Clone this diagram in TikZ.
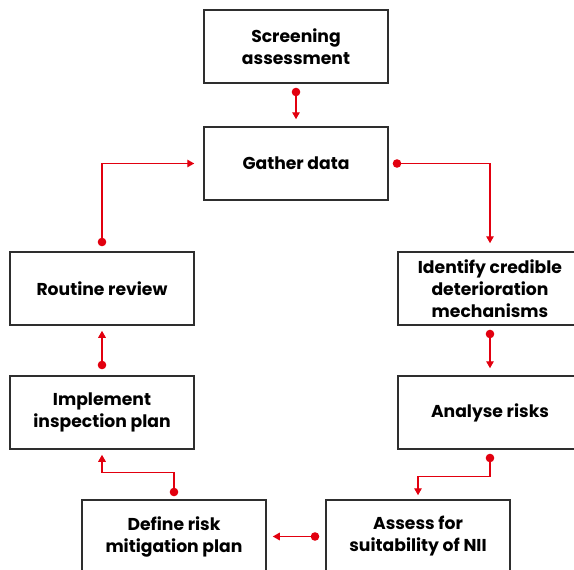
\documentclass[tikz,border=0pt]{standalone}
\usepackage{fontspec}
\setmainfont{Poppins}
\usetikzlibrary{arrows.meta,calc}
\definecolor{abbred}{HTML}{E2000F}
\definecolor{boxgray}{HTML}{2E2E2E}
\begin{document}
\begin{tikzpicture}[x=1pt,y=-1pt,
  box/.style={draw=boxgray, line width=1.5pt, minimum width=184pt, minimum height=73pt,
    align=center, inner sep=0pt, text=black,
    font=\fontsize{17.2}{22}\selectfont\bfseries},
  link/.style={draw=abbred, line width=1.3pt,
    {Circle[length=8.5pt]}-{Triangle[length=7pt,width=7.5pt]},
    shorten <=4pt, shorten >=7pt}]
\useasboundingbox (0,0) rectangle (574,570);
\clip (0,0) rectangle (574,570);
\node[box] (screen) at (296,46.5) {Screening\\assessment};
\node[box] (gather) at (296,163.5) {Gather data};
\node[box] (routine) at (102,288.5) {Routine review};
\node[box] (ident) at (490,288.5) {Identify credible\\deterioration\\mechanisms};
\node[box] (impl) at (102,412.5) {Implement\\inspection plan};
\node[box] (anal) at (490,412.5) {Analyse risks};
\node[box] (define) at (174,536.5) {Define risk\\mitigation plan};
\node[box] (assess) at (418,536.5) {Assess for\\suitability of NII};

\draw[link] (screen.south) -- (gather.north);
\draw[link, shorten >=8pt] (gather.east) -| (ident.north);
\draw[link] (ident.south) -- (anal.north);
\draw[link, shorten >=4pt] (anal.south) -- ++(0,27) -| (assess.north);
\draw[link, shorten <=6pt, shorten >=6pt] (assess.west) -- (define.east);
\draw[link, shorten <=3pt, shorten >=5pt] (define.north) -- ++(0,-27) -| (impl.south);
\draw[link, shorten <=6pt, shorten >=5pt] (impl.north) -- (routine.south);
\draw[link, shorten <=5pt, shorten >=9pt] (routine.north) |- (gather.west);
\end{tikzpicture}
\end{document}
